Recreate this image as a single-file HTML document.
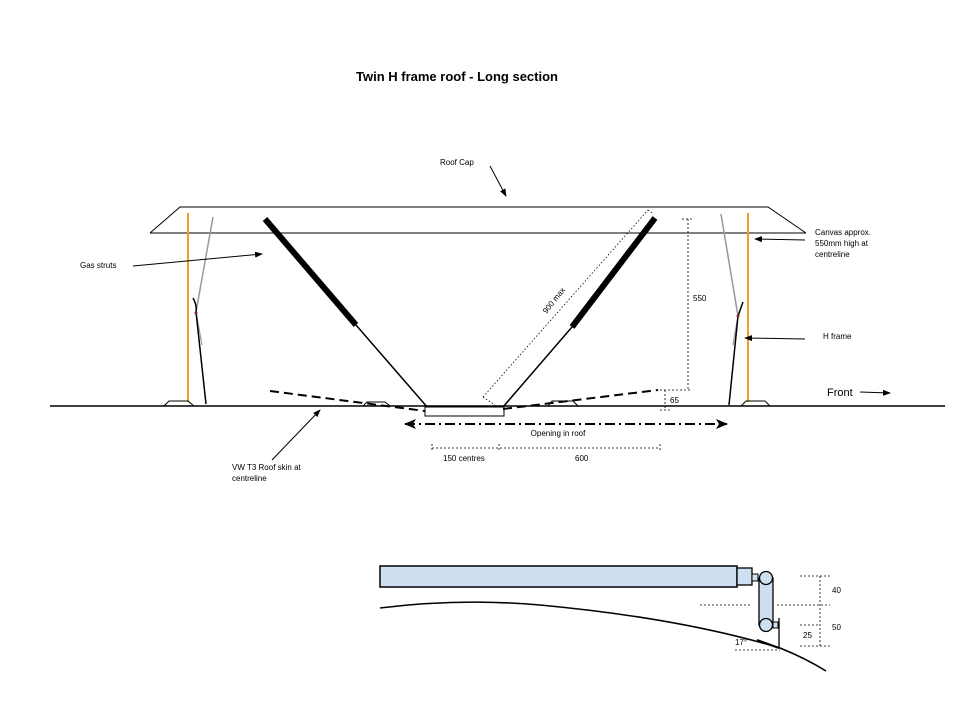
<!DOCTYPE html>
<html><head><meta charset="utf-8"><style>
html,body{margin:0;padding:0;background:#fff;}
svg{display:block;font-family:"Liberation Sans",sans-serif;}
</style></head><body>
<svg width="960" height="720" viewBox="0 0 960 720" xmlns="http://www.w3.org/2000/svg">
<defs>
<marker id="ah" markerWidth="8" markerHeight="6" refX="7" refY="3" orient="auto" markerUnits="userSpaceOnUse"><path d="M0,0 L8,3 L0,6 z" fill="#000"/></marker>
<marker id="ah2" markerWidth="12" markerHeight="10" refX="11" refY="5" orient="auto" markerUnits="userSpaceOnUse"><path d="M0,0 L12,5 L0,10 L3,5 z" fill="#000"/></marker>
</defs>
<text x="457" y="81" font-size="13" font-weight="bold" text-anchor="middle">Twin H frame roof - Long section</text>
<path d="M150,233 L180,207 L768,207 L806,233" fill="none" stroke="#000" stroke-width="1"/>
<line x1="150" y1="233" x2="806" y2="233" stroke="#000"/>
<line x1="50" y1="406" x2="945" y2="406" stroke="#000" stroke-width="1.6"/>
<line x1="188" y1="213" x2="188" y2="402" stroke="#f0a020" stroke-width="2"/>
<line x1="748" y1="213" x2="748" y2="402" stroke="#f0a020" stroke-width="2"/>
<line x1="213" y1="217" x2="196" y2="312" stroke="#999" stroke-width="1.5"/>
<line x1="196" y1="312" x2="202" y2="345" stroke="#999" stroke-width="1.2"/>
<line x1="721" y1="214" x2="738" y2="316" stroke="#999" stroke-width="1.5"/>
<line x1="738" y1="316" x2="733" y2="345" stroke="#999" stroke-width="1.2"/>
<path d="M193,298 Q197,305 196,312 L206,404" fill="none" stroke="#000" stroke-width="1.5"/>
<circle cx="196" cy="313" r="1.5" fill="#822"/>
<path d="M743,302 L738,316 L729,405" fill="none" stroke="#000" stroke-width="1.5"/>
<circle cx="738" cy="316" r="1.5" fill="#822"/>
<path d="M164,406 L169,401 L188,401 L194,406" fill="none" stroke="#000"/>
<path d="M741,406 L746,401 L765,401 L770,406" fill="none" stroke="#000"/>
<path d="M363,406 L367,402 L385,402 L390,406" fill="none" stroke="#000"/>
<path d="M548,406 L552,401 L573,401 L578,406" fill="none" stroke="#000"/>
<line x1="265" y1="219" x2="356" y2="325" stroke="#000" stroke-width="6"/>
<line x1="356" y1="325" x2="428" y2="408" stroke="#000" stroke-width="1.5"/>
<line x1="655" y1="218" x2="572" y2="327" stroke="#000" stroke-width="6"/>
<line x1="572" y1="327" x2="503" y2="407" stroke="#000" stroke-width="1.5"/>
<rect x="425" y="407" width="79" height="9" fill="#fff" stroke="#000"/>
<line x1="270" y1="391" x2="425" y2="411" stroke="#000" stroke-width="2" stroke-dasharray="9,5"/>
<line x1="503" y1="409" x2="658" y2="390" stroke="#000" stroke-width="2" stroke-dasharray="9,5"/>
<line x1="483" y1="397" x2="648" y2="210" stroke="#000" stroke-width="0.8" stroke-dasharray="1.5,2"/>
<line x1="483" y1="397" x2="495" y2="405" stroke="#000" stroke-width="0.8" stroke-dasharray="1.5,2"/>
<line x1="648" y1="210" x2="654" y2="214" stroke="#000" stroke-width="0.8" stroke-dasharray="1.5,2"/>
<text x="556" y="302" font-size="8" text-anchor="middle" transform="rotate(-52 556 302)">900 max</text>
<line x1="688" y1="219" x2="688" y2="390" stroke="#000" stroke-width="0.8" stroke-dasharray="2,2"/>
<line x1="682" y1="219" x2="692" y2="219" stroke="#000" stroke-width="0.8" stroke-dasharray="2,2"/>
<line x1="660" y1="390" x2="692" y2="390" stroke="#000" stroke-width="0.8" stroke-dasharray="2,2"/>
<text x="693" y="301" font-size="8">550</text>
<line x1="665" y1="390" x2="665" y2="410" stroke="#000" stroke-width="0.8" stroke-dasharray="2,2"/>
<line x1="660" y1="410" x2="670" y2="410" stroke="#000" stroke-width="0.8" stroke-dasharray="2,2"/>
<text x="670" y="403" font-size="8">65</text>
<line x1="405" y1="424" x2="727" y2="424" stroke="#000" stroke-width="2" stroke-dasharray="10,4,2,4" marker-end="url(#ah2)"/>
<path d="M404,424 L416,419 L413,424 L416,429 z" fill="#000"/>
<text x="558" y="436" font-size="8" text-anchor="middle">Opening in roof</text>
<line x1="432" y1="448" x2="660" y2="448" stroke="#000" stroke-width="0.8" stroke-dasharray="2,2"/>
<line x1="432" y1="444" x2="432" y2="452" stroke="#000" stroke-width="0.8" stroke-dasharray="2,2"/>
<line x1="499" y1="444" x2="499" y2="452" stroke="#000" stroke-width="0.8" stroke-dasharray="2,2"/>
<line x1="660" y1="444" x2="660" y2="452" stroke="#000" stroke-width="0.8" stroke-dasharray="2,2"/>
<text x="443" y="461" font-size="8">150 centres</text>
<text x="575" y="461" font-size="8">600</text>
<text x="440" y="165" font-size="8">Roof Cap</text>
<line x1="490" y1="166" x2="506" y2="196" stroke="#000" marker-end="url(#ah)"/>
<text x="80" y="268" font-size="8">Gas struts</text>
<line x1="133" y1="266" x2="262" y2="254" stroke="#000" marker-end="url(#ah)"/>
<text x="815" y="235" font-size="8">Canvas approx.</text>
<text x="815" y="246" font-size="8">550mm high at</text>
<text x="815" y="257" font-size="8">centreline</text>
<line x1="805" y1="240" x2="755" y2="239" stroke="#000" marker-end="url(#ah)"/>
<text x="823" y="339" font-size="8">H frame</text>
<line x1="805" y1="339" x2="745" y2="338" stroke="#000" marker-end="url(#ah)"/>
<text x="827" y="396" font-size="11">Front</text>
<line x1="860" y1="392" x2="890" y2="393" stroke="#000" marker-end="url(#ah)"/>
<text x="232" y="470" font-size="8">VW T3 Roof skin at</text>
<text x="232" y="481" font-size="8">centreline</text>
<line x1="272" y1="460" x2="320" y2="410" stroke="#000" marker-end="url(#ah)"/>
<rect x="380" y="566" width="357" height="21" fill="#cfdff2" stroke="#000" stroke-width="1.5"/>
<rect x="737" y="568" width="15" height="17" fill="#cfdff2" stroke="#000" stroke-width="1.3"/>
<rect x="752" y="574" width="6" height="7" fill="#cfdff2" stroke="#000"/>
<rect x="759" y="578" width="14" height="47" fill="#cfdff2" stroke="#000" stroke-width="1.3"/>
<circle cx="766" cy="578" r="6.5" fill="#cfdff2" stroke="#000" stroke-width="1.3"/>
<circle cx="766" cy="625" r="6.5" fill="#cfdff2" stroke="#000" stroke-width="1.3"/>
<rect x="773" y="622" width="5" height="6" fill="#cfdff2" stroke="#000"/>
<line x1="779" y1="618" x2="779" y2="648" stroke="#000" stroke-width="1.3"/>
<line x1="757" y1="640" x2="779" y2="648" stroke="#000" stroke-width="2"/>
<path d="M380,608 Q460,598 540,605 Q680,618 780,648 Q805,658 826,671" fill="none" stroke="#000" stroke-width="1.6"/>
<g stroke="#000" stroke-width="0.8" stroke-dasharray="2,2">
<line x1="700" y1="605" x2="750" y2="605"/>
<line x1="777" y1="605" x2="830" y2="605"/>
<line x1="800" y1="576" x2="830" y2="576"/>
<line x1="800" y1="625" x2="820" y2="625"/>
<line x1="800" y1="646" x2="830" y2="646"/>
<line x1="820" y1="576" x2="820" y2="646"/>
<line x1="735" y1="650" x2="780" y2="650"/>
</g>
<text x="832" y="593" font-size="8">40</text>
<text x="832" y="630" font-size="8">50</text>
<text x="803" y="638" font-size="8">25</text>
<text x="735" y="645" font-size="8">17°</text>
</svg>
</body></html>
